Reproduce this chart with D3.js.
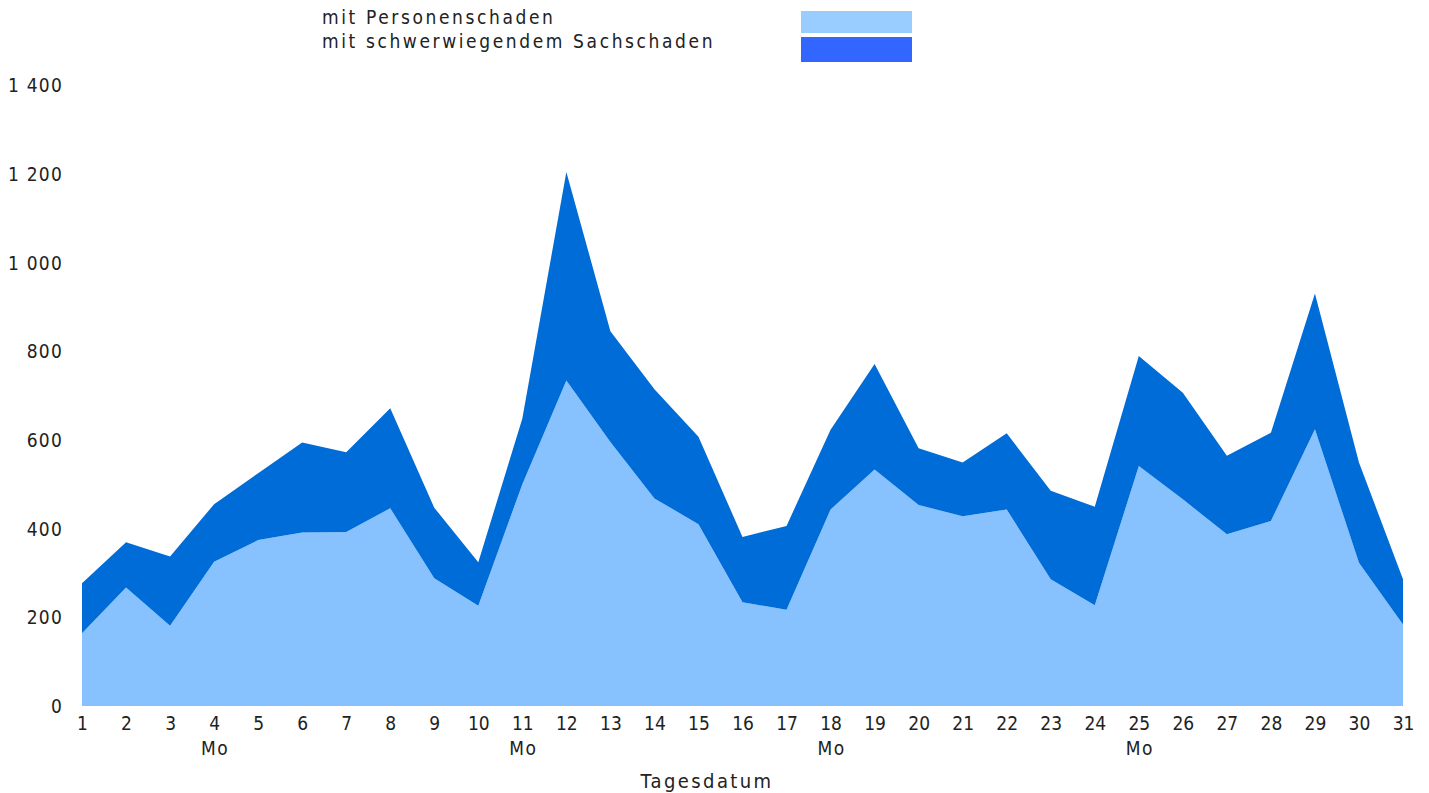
<!DOCTYPE html>
<html><head><meta charset="utf-8">
<script src="https://cdn.jsdelivr.net/npm/d3@7/dist/d3.min.js"></script>
<style>
html,body{margin:0;padding:0;background:#fff;}
svg text{font-family:"Liberation Sans Narrow","DejaVu Sans Condensed","Roboto Condensed",sans-serif;font-stretch:condensed;fill:#222;}
</style></head>
<body>
<svg id="chart" width="1429" height="793"></svg>
<script>
const days = d3.range(1, 32);
const personenschaden = [164,267,181,325,374,391,392,446,288,226,500,734,595,468,410,234,217,443,533,453,428,443,286,227,541,466,387,417,624,323,184];
const totalUnfaelle = [277,369,337,455,525,594,572,671,447,324,648,1204,845,714,607,381,406,623,771,581,549,615,485,449,789,706,564,616,930,549,286];
const sachschaden = totalUnfaelle.map((t, i) => t - personenschaden[i]);
const seriesNames = ["mit Personenschaden", "mit schwerwiegendem Sachschaden"];
const areaColors = ["#87C1FE", "#006CD7"];
const legendColors = ["#99CCFF", "#3366FF"];
const yTicks = [0,200,400,600,800,1000,1200,1400];
const mondays = [4, 11, 18, 25];
const xTitle = "Tagesdatum";

const svg = d3.select("#chart");
const x = d3.scaleLinear().domain([1, 31]).range([82, 1403]);
const y = d3.scaleLinear().domain([0, 1400]).range([706, 85]);

const table = days.map((d, i) => ({day: d, p: personenschaden[i], s: sachschaden[i]}));
const stack = d3.stack().keys(["p", "s"]);
const layers = stack(table);
const area = d3.area().x(d => x(d.data.day)).y0(d => y(d[0])).y1(d => y(d[1]));

svg.append("g").selectAll("path").data(layers).join("path")
  .attr("d", area).attr("fill", (d, i) => areaColors[i]);

const fmtDe = v => v >= 1000 ? String(v).replace(/(\d)(\d{3})$/, "$1 $2") : String(v);

const yAxis = d3.axisLeft(y).tickValues(yTicks).tickFormat(fmtDe).tickSize(0).tickPadding(0);
const gy = svg.append("g").attr("transform", "translate(63,0)").call(yAxis);
gy.select(".domain").remove();
gy.selectAll("text").style("font-size", "19px").style("letter-spacing", "1.2px")
  .attr("dy", "0.35em").attr("fill", "#222");

const xAxis = d3.axisBottom(x).tickValues(days).tickFormat(d => d).tickSize(0).tickPadding(0);
const gx = svg.append("g").attr("transform", "translate(0,716)").call(xAxis);
gx.select(".domain").remove();
gx.selectAll("text").style("font-size", "19px").attr("dy", "0.75em").attr("fill", "#222");

svg.append("g").selectAll("text").data(mondays).join("text")
  .attr("x", d => x(d) + 1).attr("y", 755).attr("text-anchor", "middle")
  .style("font-size", "19px").style("letter-spacing", "1.5px").text("Mo");

svg.append("text").attr("x", 707).attr("y", 788).attr("text-anchor", "middle")
  .style("font-size", "20px").style("letter-spacing", "2.4px").text(xTitle);

const lg = svg.append("g");
seriesNames.forEach((n, i) => {
  lg.append("text").attr("x", 322).attr("y", 24 + i * 24).style("font-size", "19px")
    .style("letter-spacing", "2.6px").text(n);
  lg.append("rect").attr("x", 801).attr("y", i === 0 ? 11 : 37).attr("width", 111)
    .attr("height", i === 0 ? 22 : 25).attr("fill", legendColors[i]);
});
</script>
</body></html>
